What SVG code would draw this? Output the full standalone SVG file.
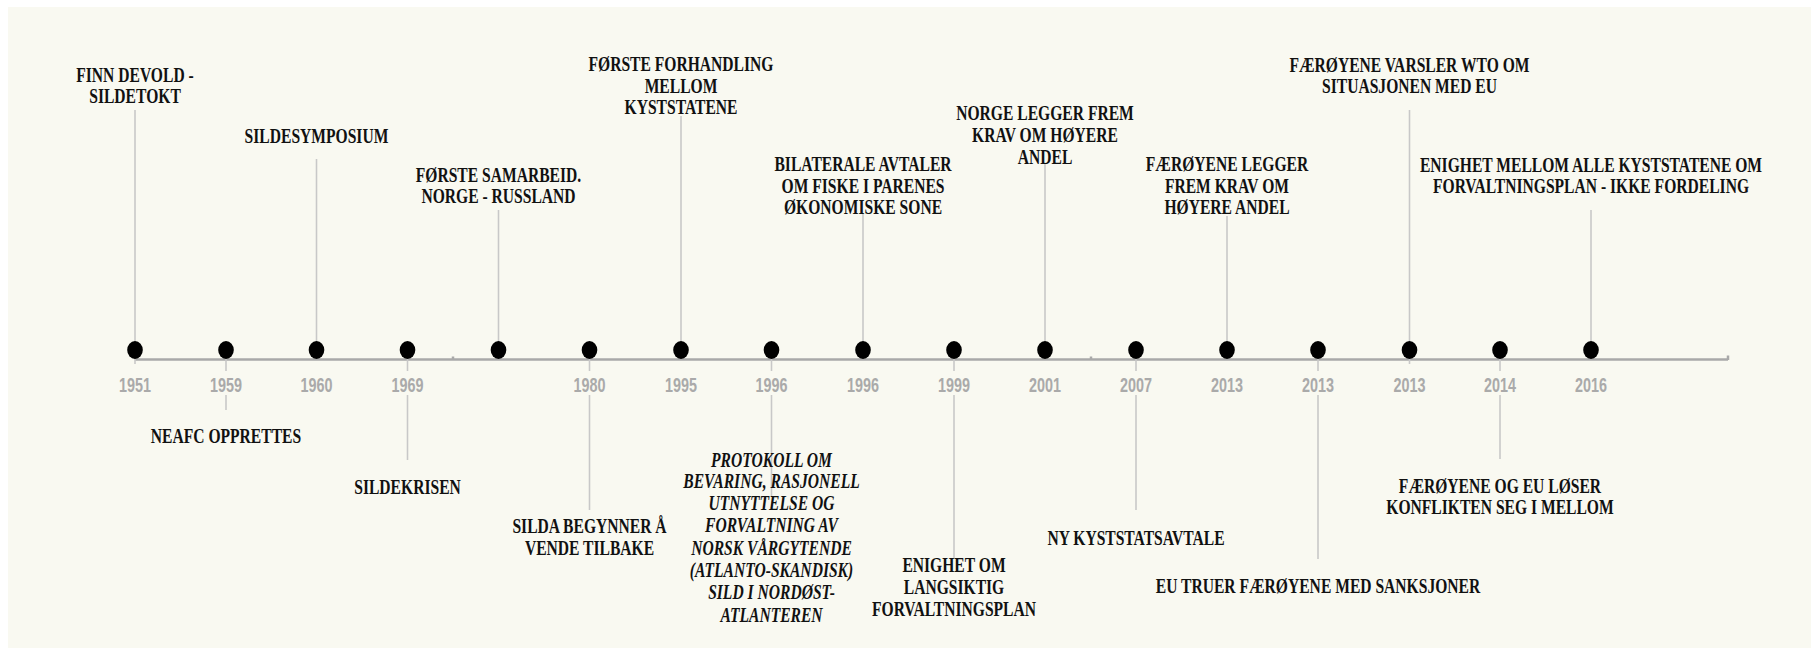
<svg xmlns="http://www.w3.org/2000/svg" width="1811" height="657" viewBox="0 0 1811 657">
<style>
.bg{fill:#f9f9f1}
.dot{fill:#000}
.axis{stroke:#a9a9a9;stroke-width:2.5;fill:none}
.con line{stroke:#c8c8c8;stroke-width:1.6}
.yr{font-family:"Liberation Sans",Arial,sans-serif;font-weight:bold;font-size:19.5px;fill:#aaaaaa;text-anchor:middle}
.t{font-family:"Liberation Serif","Times New Roman",serif;font-weight:bold;font-size:20px;fill:#111;text-anchor:middle}
.i{font-style:italic}
</style>
<rect class="bg" x="8" y="7" width="1803" height="641"/>
<g id="axis">
<line class="axis" x1="135" y1="359.5" x2="1728" y2="359.5"/>
<line class="axis" x1="1728" y1="355.5" x2="1728" y2="360" stroke-width="1.5"/>
<line class="axis" x1="453" y1="356.5" x2="453" y2="359" stroke-width="1.5"/>
<line class="axis" x1="1091" y1="356.5" x2="1091" y2="359" stroke-width="1.5"/>
</g>
<g id="connectors" class="con">
<line x1="135" y1="110" x2="135" y2="364"/>
<line x1="226" y1="350" x2="226" y2="371"/><line x1="226" y1="395" x2="226" y2="410"/>
<line x1="316.5" y1="159" x2="316.5" y2="350"/>
<line x1="407.5" y1="350" x2="407.5" y2="371"/><line x1="407.5" y1="395" x2="407.5" y2="460"/>
<line x1="498.5" y1="210" x2="498.5" y2="350"/>
<line x1="589.5" y1="350" x2="589.5" y2="371"/><line x1="589.5" y1="395" x2="589.5" y2="510"/>
<line x1="681" y1="116" x2="681" y2="350"/>
<line x1="771.5" y1="350" x2="771.5" y2="371"/><line x1="771.5" y1="395" x2="771.5" y2="497"/>
<line x1="863" y1="214" x2="863" y2="350"/>
<line x1="954" y1="350" x2="954" y2="371"/><line x1="954" y1="395" x2="954" y2="558"/>
<line x1="1045" y1="163" x2="1045" y2="350"/>
<line x1="1136" y1="350" x2="1136" y2="371"/><line x1="1136" y1="395" x2="1136" y2="510"/>
<line x1="1227" y1="216" x2="1227" y2="350"/>
<line x1="1318" y1="350" x2="1318" y2="371"/><line x1="1318" y1="395" x2="1318" y2="559"/>
<line x1="1409.5" y1="110" x2="1409.5" y2="364"/>
<line x1="1500" y1="350" x2="1500" y2="371"/><line x1="1500" y1="395" x2="1500" y2="459"/>
<line x1="1591" y1="210" x2="1591" y2="350"/>
</g>
<g id="ev1951"><ellipse class="dot" cx="135" cy="350" rx="7.8" ry="9"/><text class="yr" x="135" y="391.5" textLength="32" lengthAdjust="spacingAndGlyphs">1951</text>
<text class="t" transform="translate(135 0) scale(0.78 1)"><tspan x="0" y="81.7">FINN DEVOLD -</tspan><tspan x="0" y="103.3">SILDETOKT</tspan></text></g>
<g id="ev1959"><ellipse class="dot" cx="226" cy="350" rx="7.8" ry="9"/><text class="yr" x="226" y="391.5" textLength="32" lengthAdjust="spacingAndGlyphs">1959</text>
<text class="t" transform="translate(226 0) scale(0.78 1)"><tspan x="0" y="443.3">NEAFC OPPRETTES</tspan></text></g>
<g id="ev1960"><ellipse class="dot" cx="316.5" cy="350" rx="7.8" ry="9"/><text class="yr" x="316.5" y="391.5" textLength="32" lengthAdjust="spacingAndGlyphs">1960</text>
<text class="t" transform="translate(316.5 0) scale(0.78 1)"><tspan x="0" y="142.7">SILDESYMPOSIUM</tspan></text></g>
<g id="ev1969"><ellipse class="dot" cx="407.5" cy="350" rx="7.8" ry="9"/><text class="yr" x="407.5" y="391.5" textLength="32" lengthAdjust="spacingAndGlyphs">1969</text>
<text class="t" transform="translate(407.5 0) scale(0.78 1)"><tspan x="0" y="494">SILDEKRISEN</tspan></text></g>
<g id="evSamarbeid"><ellipse class="dot" cx="498.5" cy="350" rx="7.8" ry="9"/>
<text class="t" transform="translate(498.5 0) scale(0.78 1)"><tspan x="0" y="181.7">FØRSTE SAMARBEID.</tspan><tspan x="0" y="203.3">NORGE - RUSSLAND</tspan></text></g>
<g id="ev1980"><ellipse class="dot" cx="589.5" cy="350" rx="7.8" ry="9"/><text class="yr" x="589.5" y="391.5" textLength="32" lengthAdjust="spacingAndGlyphs">1980</text>
<text class="t" transform="translate(589.5 0) scale(0.78 1)"><tspan x="0" y="533.3">SILDA BEGYNNER Å</tspan><tspan x="0" y="555">VENDE TILBAKE</tspan></text></g>
<g id="ev1995"><ellipse class="dot" cx="681" cy="350" rx="7.8" ry="9"/><text class="yr" x="681" y="391.5" textLength="32" lengthAdjust="spacingAndGlyphs">1995</text>
<text class="t" transform="translate(681 0) scale(0.78 1)"><tspan x="0" y="70.7">FØRSTE FORHANDLING</tspan><tspan x="0" y="92.7">MELLOM</tspan><tspan x="0" y="114.3">KYSTSTATENE</tspan></text></g>
<g id="ev1996a"><ellipse class="dot" cx="771.5" cy="350" rx="7.8" ry="9"/><text class="yr" x="771.5" y="391.5" textLength="32" lengthAdjust="spacingAndGlyphs">1996</text>
<text class="t i" transform="translate(771.5 0) scale(0.78 1)"><tspan x="0" y="466.7">PROTOKOLL  OM</tspan><tspan x="0" y="488.3">BEVARING, RASJONELL</tspan><tspan x="0" y="510">UTNYTTELSE  OG</tspan><tspan x="0" y="532.3">FORVALTNING AV</tspan><tspan x="0" y="555">NORSK VÅRGYTENDE</tspan><tspan x="0" y="576.7">(ATLANTO-SKANDISK)</tspan><tspan x="0" y="599.3">SILD I NORDØST-</tspan><tspan x="0" y="621.7">ATLANTEREN</tspan></text></g>
<g id="ev1996b"><ellipse class="dot" cx="863" cy="350" rx="7.8" ry="9"/><text class="yr" x="863" y="391.5" textLength="32" lengthAdjust="spacingAndGlyphs">1996</text>
<text class="t" transform="translate(863 0) scale(0.78 1)"><tspan x="0" y="171">BILATERALE AVTALER</tspan><tspan x="0" y="192.7">OM FISKE I PARENES</tspan><tspan x="0" y="214.3">ØKONOMISKE SONE</tspan></text></g>
<g id="ev1999"><ellipse class="dot" cx="954" cy="350" rx="7.8" ry="9"/><text class="yr" x="954" y="391.5" textLength="32" lengthAdjust="spacingAndGlyphs">1999</text>
<text class="t" transform="translate(954 0) scale(0.78 1)"><tspan x="0" y="572.3">ENIGHET OM</tspan><tspan x="0" y="594">LANGSIKTIG</tspan><tspan x="0" y="616">FORVALTNINGSPLAN</tspan></text></g>
<g id="ev2001"><ellipse class="dot" cx="1045" cy="350" rx="7.8" ry="9"/><text class="yr" x="1045" y="391.5" textLength="32" lengthAdjust="spacingAndGlyphs">2001</text>
<text class="t" transform="translate(1045 0) scale(0.78 1)"><tspan x="0" y="120">NORGE LEGGER FREM</tspan><tspan x="0" y="142">KRAV OM HØYERE</tspan><tspan x="0" y="164">ANDEL</tspan></text></g>
<g id="ev2007"><ellipse class="dot" cx="1136" cy="350" rx="7.8" ry="9"/><text class="yr" x="1136" y="391.5" textLength="32" lengthAdjust="spacingAndGlyphs">2007</text>
<text class="t" transform="translate(1136 0) scale(0.78 1)"><tspan x="0" y="545">NY KYSTSTATSAVTALE</tspan></text></g>
<g id="ev2013a"><ellipse class="dot" cx="1227" cy="350" rx="7.8" ry="9"/><text class="yr" x="1227" y="391.5" textLength="32" lengthAdjust="spacingAndGlyphs">2013</text>
<text class="t" transform="translate(1227 0) scale(0.78 1)"><tspan x="0" y="171">FÆRØYENE LEGGER</tspan><tspan x="0" y="192.7">FREM KRAV OM</tspan><tspan x="0" y="214.3">HØYERE ANDEL</tspan></text></g>
<g id="ev2013b"><ellipse class="dot" cx="1318" cy="350" rx="7.8" ry="9"/><text class="yr" x="1318" y="391.5" textLength="32" lengthAdjust="spacingAndGlyphs">2013</text>
<text class="t" transform="translate(1318 0) scale(0.78 1)"><tspan x="0" y="593.3">EU TRUER FÆRØYENE MED SANKSJONER</tspan></text></g>
<g id="ev2013c"><ellipse class="dot" cx="1409.5" cy="350" rx="7.8" ry="9"/><text class="yr" x="1409.5" y="391.5" textLength="32" lengthAdjust="spacingAndGlyphs">2013</text>
<text class="t" transform="translate(1409.5 0) scale(0.78 1)"><tspan x="0" y="71.7">FÆRØYENE VARSLER WTO OM</tspan><tspan x="0" y="93.3">SITUASJONEN MED EU</tspan></text></g>
<g id="ev2014"><ellipse class="dot" cx="1500" cy="350" rx="7.8" ry="9"/><text class="yr" x="1500" y="391.5" textLength="32" lengthAdjust="spacingAndGlyphs">2014</text>
<text class="t" transform="translate(1500 0) scale(0.78 1)"><tspan x="0" y="492.7">FÆRØYENE OG EU LØSER</tspan><tspan x="0" y="514.3">KONFLIKTEN SEG I MELLOM</tspan></text></g>
<g id="ev2016"><ellipse class="dot" cx="1591" cy="350" rx="7.8" ry="9"/><text class="yr" x="1591" y="391.5" textLength="32" lengthAdjust="spacingAndGlyphs">2016</text>
<text class="t" transform="translate(1591 0) scale(0.78 1)"><tspan x="0" y="171.7">ENIGHET MELLOM ALLE KYSTSTATENE OM</tspan><tspan x="0" y="193.3">FORVALTNINGSPLAN - IKKE FORDELING</tspan></text></g>
</svg>
